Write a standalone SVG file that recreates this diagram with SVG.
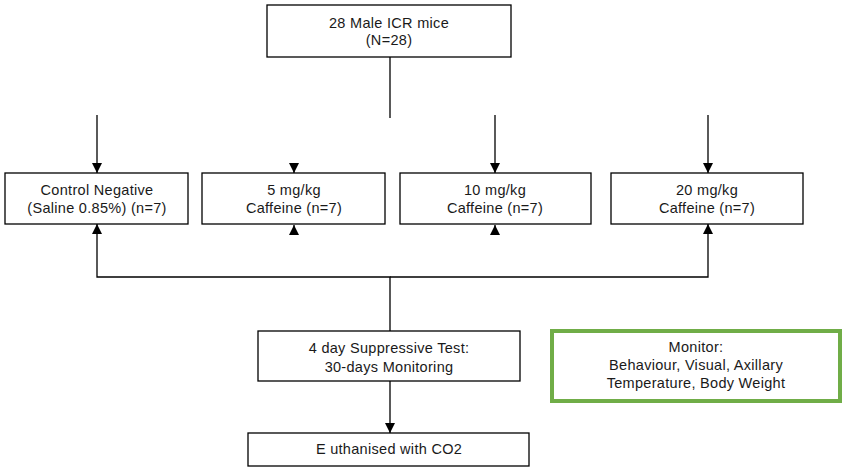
<svg xmlns="http://www.w3.org/2000/svg" width="844" height="468" viewBox="0 0 844 468">
<defs>
<marker id="ah" viewBox="0 0 10 10" refX="10" refY="5" markerWidth="10" markerHeight="10" markerUnits="userSpaceOnUse" orient="auto">
<path d="M0,0 L10,5 L0,10 Z" fill="#000"/>
</marker>
</defs>
<style>
.box{fill:#fff;stroke:#000;stroke-width:1.3}
.green{fill:#fff;stroke:#70AD47;stroke-width:4}
text{font-family:"Liberation Sans",Arial,sans-serif;font-size:14.5px;letter-spacing:0.3px;fill:#1a1a1a;text-anchor:middle}
.c{stroke:#000;stroke-width:1.3;fill:none}
</style>
<rect width="844" height="468" fill="#fff"/>
<g id="connectors">
<line class="c" x1="390" y1="57" x2="390" y2="118"/>
<line class="c" x1="97" y1="115" x2="97" y2="173" marker-end="url(#ah)"/>
<line class="c" x1="294" y1="163" x2="294" y2="173" marker-end="url(#ah)"/>
<line class="c" x1="495" y1="115" x2="495" y2="173" marker-end="url(#ah)"/>
<line class="c" x1="708" y1="115" x2="708" y2="173" marker-end="url(#ah)"/>
<polyline class="c" points="390,331 390,277 97,277 97,224" marker-end="url(#ah)"/>
<polyline class="c" points="390,277 708,277 708,224" marker-end="url(#ah)"/>
<line class="c" x1="294" y1="235" x2="294" y2="225" marker-end="url(#ah)"/>
<line class="c" x1="495" y1="235" x2="495" y2="225" marker-end="url(#ah)"/>
<line class="c" x1="390" y1="381" x2="390" y2="433" marker-end="url(#ah)"/>
</g>
<g id="node-mice">
<rect class="box" x="267" y="5" width="244" height="52"/>
<text x="389" y="28">28 Male ICR mice</text>
<text x="389" y="45">(N=28)</text>
</g>
<g id="node-control">
<rect class="box" x="5" y="173" width="183" height="51"/>
<text x="97" y="195">Control Negative</text>
<text x="97" y="213">(Saline 0.85%) (n=7)</text>
</g>
<g id="node-5">
<rect class="box" x="202" y="173" width="183" height="51"/>
<text x="294" y="195">5 mg/kg</text>
<text x="294" y="213">Caffeine (n=7)</text>
</g>
<g id="node-10">
<rect class="box" x="400" y="173" width="191" height="51"/>
<text x="495" y="195">10 mg/kg</text>
<text x="495" y="213">Caffeine (n=7)</text>
</g>
<g id="node-20">
<rect class="box" x="611" y="173" width="192" height="51"/>
<text x="707" y="195">20 mg/kg</text>
<text x="707" y="213">Caffeine (n=7)</text>
</g>
<g id="node-test">
<rect class="box" x="258" y="331" width="262" height="50"/>
<text x="389" y="353">4 day Suppressive Test:</text>
<text x="389" y="372">30-days Monitoring</text>
</g>
<g id="node-euth">
<rect class="box" x="248" y="433" width="281" height="33"/>
<text x="389" y="454">E uthanised with CO2</text>
</g>
<g id="node-monitor">
<rect class="green" x="552" y="331" width="288" height="70"/>
<text x="696" y="352">Monitor:</text>
<text x="696" y="370">Behaviour, Visual, Axillary</text>
<text x="696" y="388">Temperature, Body Weight</text>
</g>
</svg>
